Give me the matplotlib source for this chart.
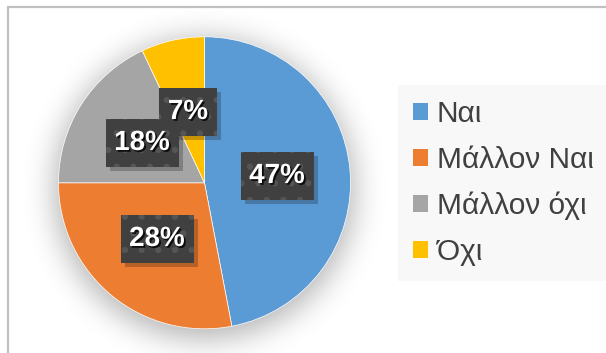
import numpy as np
import matplotlib.pyplot as plt
import matplotlib.patheffects as pe
from matplotlib.patches import Patch, Rectangle

plt.rcParams['font.family'] = ['Liberation Sans', 'DejaVu Sans']
plt.rcParams['hatch.linewidth'] = 2.0

labels = ['Ναι', 'Μάλλον Ναι', 'Μάλλον όχι', 'Όχι']
shares = [47, 28, 18, 7]
colors = ['#5B9BD5', '#ED7D31', '#A5A5A5', '#FFC000']
# label box centres in pixel units (x right, y up)
label_pos = [(277, 177), (157, 114), (142, 210), (188, 241)]

W, H = 606, 353
cx, cy, r = 204.5, 170.2, 146
box_w = [73, 73, 73, 58]
box_h = 48

fig = plt.figure(figsize=(W / 100, H / 100), dpi=100)
ax = fig.add_axes([0, 0, 1, 1])

# outer chart frame (only top and left edges fall inside the image)
ax.add_patch(Rectangle((8, -20), W + 20, H - 7 + 20, facecolor='none',
                       edgecolor='#c0c0c0', linewidth=1.6, zorder=1))

# soft drop shadow under the pie
yy, xx = np.mgrid[0:H, 0:W] + 0.5
disc = (((xx - cx) ** 2 + (yy - (cy - 6)) ** 2) <= (r + 4) ** 2).astype(float)
sig = 15
k = np.arange(-3 * sig, 3 * sig + 1)
g = np.exp(-k ** 2 / (2 * sig ** 2))
g /= g.sum()
blur = np.apply_along_axis(lambda v: np.convolve(v, g, mode='same'), 0, disc)
blur = np.apply_along_axis(lambda v: np.convolve(v, g, mode='same'), 1, blur)
shadow = np.zeros((H, W, 4))
shadow[..., 3] = blur * 0.3
ax.imshow(shadow, extent=(0, W, 0, H), origin='lower', zorder=2,
          interpolation='bilinear')

wedges, _ = ax.pie(shares, colors=colors, startangle=90, counterclock=False,
                   center=(cx, cy), radius=r, frame=True,
                   wedgeprops=dict(linewidth=0.5, edgecolor='white'))
for w in wedges:
    w.set_zorder(3)
ax.set_xlim(0, W)
ax.set_ylim(0, H)
ax.set_aspect('equal')
ax.axis('off')

# data labels in dark dotted boxes
for val, (x, y), bw in zip(shares, label_pos, box_w):
    ax.add_patch(Rectangle((x - bw / 2 + 4, y - box_h / 2 - 4), bw, box_h,
                           facecolor='black', edgecolor='none', alpha=0.22,
                           zorder=4))
    ax.add_patch(Rectangle((x - bw / 2, y - box_h / 2), bw, box_h,
                           facecolor='#404040', edgecolor='#555555',
                           linewidth=0.01, hatch='.', zorder=4.5))
    ax.text(x, y, f'{val}%', color='white', fontsize=20, fontweight='bold',
            ha='center', va='center', zorder=5,
            path_effects=[pe.SimplePatchShadow(offset=(1.3, -1.3), alpha=0.8,
                                               shadow_rgbFace='black'),
                          pe.Normal()])

handles = [Patch(facecolor=c, edgecolor='none') for c in colors]
leg = ax.legend(handles, labels, loc='upper left',
                bbox_to_anchor=(398 / W, 1 - 85 / H), bbox_transform=fig.transFigure,
                fontsize=21.5, frameon=True, fancybox=False, framealpha=1,
                facecolor='#f8f8f8', edgecolor='none', borderaxespad=0,
                borderpad=0.5, handlelength=0.52, handleheight=0.52,
                handletextpad=0.28, labelspacing=0.6, labelcolor='#404040')

fig.savefig('out.png', dpi=100, facecolor='white')
